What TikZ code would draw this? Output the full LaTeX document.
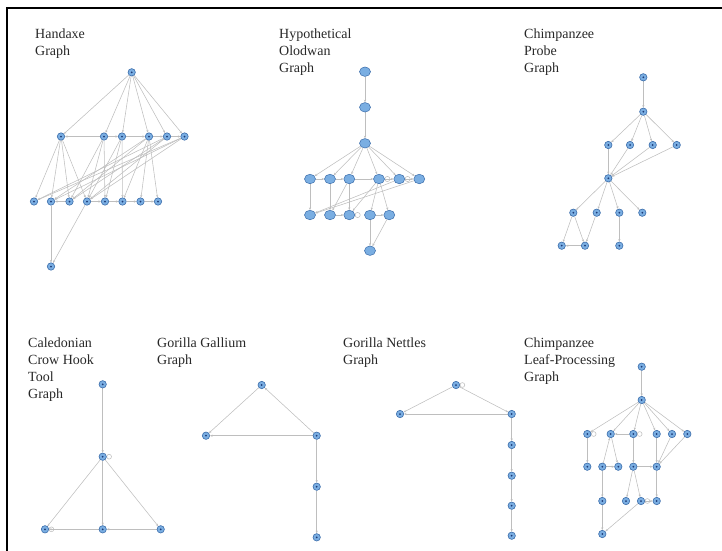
\documentclass[tikz,border=0pt]{standalone}
\usepackage{fontspec}
\setmainfont{Liberation Serif}
\usetikzlibrary{arrows.meta,backgrounds,shapes.geometric}
\definecolor{nodeblue}{RGB}{122,174,226}
\definecolor{nodeborder}{RGB}{58,108,170}
\definecolor{nodedot}{RGB}{30,60,120}
\definecolor{edgegray}{RGB}{190,190,190}
\definecolor{txt}{RGB}{40,40,40}
\tikzset{
  nd/.style={circle, fill=nodeblue, draw=nodeborder, line width=0.6pt, inner sep=0pt, minimum size=7.4pt,
    path picture={\fill[nodedot] (path picture bounding box.center) circle (1pt);}},
  bn/.style={ellipse, fill=nodeblue, draw=nodeborder, line width=0.5pt, inner sep=0pt, minimum width=11pt, minimum height=9.5pt},
  ed/.style={draw=edgegray, line width=0.55pt, -{Stealth[length=2.6pt,width=2.2pt]}},
  lp/.style={draw=edgegray, line width=0.55pt},
  lbl/.style={anchor=north west, inner sep=0pt, align=left, text=txt, font=\fontsize{14}{17}\selectfont},
}
\begin{document}
\begin{tikzpicture}[x=1pt,y=-1pt]
\useasboundingbox (0,0) rectangle (722,550);
\draw[line width=1.6pt] (7,551) -- (7,8) -- (723,8);
% labels
\node[lbl] (L1) at (35,29) {Handaxe\\Graph};
\node[lbl] (L2) at (279,29) {Hypothetical\\Olodwan\\Graph};
\node[lbl] (L3) at (524,29) {Chimpanzee\\Probe\\Graph};
\node[lbl] (L4) at (28,337.5) {Caledonian\\Crow Hook\\Tool\\Graph};
\node[lbl] (L5) at (157,337.5) {Gorilla Gallium\\Graph};
\node[lbl] (L6) at (343,337.5) {Gorilla Nettles\\Graph};
\node[lbl] (L7) at (524,337.5) {Chimpanzee\\Leaf-Processing\\Graph};
% Handaxe
\node[nd] (h0) at (131.7,72.3) {};
\node[nd] (m1) at (61,136.5) {};
\node[nd] (m2) at (104,136.5) {};
\node[nd] (m3) at (122,136.5) {};
\node[nd] (m4) at (149,136.5) {};
\node[nd] (m5) at (167,136.5) {};
\node[nd] (m6) at (184.5,136.5) {};
\node[nd] (b1) at (34,201.5) {};
\node[nd] (b2) at (51,201.5) {};
\node[nd] (b3) at (69.5,201.5) {};
\node[nd] (b4) at (87,201.5) {};
\node[nd] (b5) at (105,201.5) {};
\node[nd] (b6) at (122.5,201.5) {};
\node[nd] (b7) at (140.5,201.5) {};
\node[nd] (b8) at (158,201.5) {};
\node[nd] (h9) at (51,266.5) {};
% Olodwan
\node[bn] (o1) at (365,71.7) {};
\node[bn] (o2) at (365,107.3) {};
\node[bn] (o3) at (365,143.3) {};
\node[bn] (r1) at (310,179) {};
\node[bn] (r2) at (330,179) {};
\node[bn] (r3) at (349.3,179) {};
\node[bn] (r4) at (379,179) {};
\node[bn] (r5) at (399.3,179) {};
\node[bn] (r6) at (419.3,179) {};
\node[bn] (s1) at (310,215) {};
\node[bn] (s2) at (330,215) {};
\node[bn] (s3) at (349.3,215) {};
\node[bn] (s4) at (370,215) {};
\node[bn] (s5) at (389.3,215) {};
\node[bn] (o4) at (370,250.7) {};
% Probe
\node[nd] (p1) at (643.3,77.3) {};
\node[nd] (p2) at (643.3,111.7) {};
\node[nd] (q1) at (608.3,145) {};
\node[nd] (q2) at (630,145) {};
\node[nd] (q3) at (652.7,145) {};
\node[nd] (q4) at (676.7,145) {};
\node[nd] (p3) at (608.3,178.3) {};
\node[nd] (t1) at (573.3,212.7) {};
\node[nd] (t2) at (596.7,212.7) {};
\node[nd] (t3) at (619.3,212.7) {};
\node[nd] (t4) at (642.3,212.7) {};
\node[nd] (u1) at (561.7,245.7) {};
\node[nd] (u2) at (585,245.7) {};
\node[nd] (u3) at (619.3,245.7) {};
% Crow hook
\node[nd] (c1) at (102.7,384.3) {};
\node[nd] (c2) at (102.7,456.7) {};
\node[nd] (c3) at (45,529.3) {};
\node[nd] (c4) at (102.7,529.3) {};
\node[nd] (c5) at (160.7,529.3) {};
% Gallium
\node[nd] (g1) at (261.7,385) {};
\node[nd] (g2) at (206,435.7) {};
\node[nd] (g3) at (316.7,435.7) {};
\node[nd] (g4) at (316.7,486.7) {};
\node[nd] (g5) at (316.7,537.3) {};
% Nettles
\node[nd] (n1) at (456,385) {};
\node[nd] (n2) at (400,414) {};
\node[nd] (n3) at (511.7,414) {};
\node[nd] (n4) at (511.7,445) {};
\node[nd] (n5) at (511.7,475.7) {};
\node[nd] (n6) at (511.7,505.7) {};
\node[nd] (n7) at (511.7,535.7) {};
% Leaf processing
\node[nd] (l1) at (641.7,366.7) {};
\node[nd] (l2) at (641.7,400) {};
\node[nd] (a1) at (587.3,434) {};
\node[nd] (a2) at (610.7,434) {};
\node[nd] (a3) at (633.3,434) {};
\node[nd] (a4) at (656.7,434) {};
\node[nd] (a5) at (672,434) {};
\node[nd] (a6) at (687.3,434) {};
\node[nd] (d1) at (587.3,466.7) {};
\node[nd] (d2) at (602.3,466.7) {};
\node[nd] (d3) at (618.3,466.7) {};
\node[nd] (d4) at (633.3,466.7) {};
\node[nd] (d5) at (656.7,466.7) {};
\node[nd] (e1) at (602.3,501) {};
\node[nd] (e2) at (626,501) {};
\node[nd] (e3) at (641,501) {};
\node[nd] (e4) at (656.7,501) {};
\node[nd] (l3) at (602.3,534) {};
\begin{pgfonlayer}{background}
% Handaxe edges
\foreach \t in {m1,m2,m3,m4,m5,m6} \draw[ed] (h0) -- (\t);
\draw[ed] (m2) -- (m1);
\draw[ed] (m2) -- (m3);
\draw[ed] (m3) -- (m4);
\draw[ed] (m4) -- (m5);
\draw[ed] (m5) -- (m6);
\foreach \t in {b1,b2,b3,b4} \draw[ed] (m1) -- (\t);
\foreach \t in {b3,b4,b5} \draw[ed] (m2) -- (\t);
\foreach \t in {b4,b5,b6} \draw[ed] (m3) -- (\t);
\foreach \t in {b2,b3,b6,b7,b8} \draw[ed] (m4) -- (\t);
\foreach \t in {b1,b3,b4} \draw[ed] (m5) -- (\t);
\foreach \t in {b1,b2,b4} \draw[ed] (m6) -- (\t);
\draw[ed] (b3) -- (b2);
\draw[ed] (b4) -- (b5);
\draw[ed] (b5) -- (b6);
\draw[ed] (b6) -- (b7);
\draw[ed] (b7) -- (b8);
\draw[ed] (b2) -- (h9);
\draw[ed] (b4) -- (h9);
% Olodwan edges
\draw[ed] (o1) -- (o2);
\draw[ed] (o2) -- (o3);
\foreach \t in {r1,r2,r3,r4,r5,r6} \draw[ed] (o3) -- (\t);
\draw[ed] (r1) -- (r2);
\draw[ed] (r2) -- (r3);
\draw[ed] (r3) -- (r4);
\draw[ed] (r4) -- (r5);
\draw[ed] (r5) -- (r6);
\draw[ed] (r1) -- (s1);
\draw[ed] (r2) -- (s2);
\draw[ed] (r3) -- (s3);
\draw[ed] (r3) -- (s2);
\draw[ed] (r4) -- (s3);
\draw[ed] (r5) -- (s1);
\draw[ed] (r6) -- (s1);
\draw[ed] (r4) -- (s4);
\draw[ed] (r4) -- (s5);
\draw[ed] (s2) -- (s3);
\draw[ed] (s4) -- (s5);
\draw[ed] (s4) -- (o4);
\draw[ed] (s5) -- (o4);
\draw[lp] (r4.east) ++(2.6,0) circle[radius=2.6pt];
\draw[lp] (r5.east) ++(2.6,0) circle[radius=2.6pt];
\draw[lp] (s3.east) ++(2.6,0) circle[radius=2.6pt];
% Probe edges
\draw[ed] (p1) -- (p2);
\foreach \t in {q1,q2,q3,q4} {\draw[ed] (p2) -- (\t); \draw[ed] (\t) -- (p3);}
\foreach \t in {t1,t2,t3,t4} \draw[ed] (p3) -- (\t);
\draw[ed] (t1) -- (u1);
\draw[ed] (t1) -- (u2);
\draw[ed] (t2) -- (u2);
\draw[ed] (u2) -- (u1);
\draw[ed] (t3) -- (u3);
% Crow hook edges
\draw[ed] (c1) -- (c2);
\draw[ed] (c2) -- (c3);
\draw[ed] (c2) -- (c4);
\draw[ed] (c2) -- (c5);
\draw[ed] (c4) -- (c3);
\draw[ed] (c5) -- (c4);
\draw[lp] (c2.east) ++(2.4,0) circle[radius=2.4pt];
\draw[lp] (c3.east) ++(2.4,0) circle[radius=2.4pt];
% Gallium edges
\draw[ed] (g1) -- (g2);
\draw[ed] (g3) -- (g1);
\draw[ed] (g3) -- (g2);
\draw[ed] (g3) -- (g4);
\draw[ed] (g4) -- (g5);
% Nettles edges
\draw[ed] (n1) -- (n2);
\draw[ed] (n1) -- (n3);
\draw[ed] (n3) -- (n2);
\draw[ed] (n3) -- (n4);
\draw[ed] (n4) -- (n5);
\draw[ed] (n5) -- (n6);
\draw[ed] (n6) -- (n7);
\draw[lp] (n1.east) ++(2.4,0) circle[radius=2.4pt];
% Leaf edges
\draw[ed] (l1) -- (l2);
\foreach \t in {a1,a2,a3,a4,a5,a6} \draw[ed] (l2) -- (\t);
\draw[ed] (a1) -- (d1);
\draw[ed] (a3) -- (a2);
\draw[ed] (d2) -- (a2);
\draw[ed] (a2) -- (d3);
\draw[ed] (d2) -- (d3);
\draw[ed] (a3) -- (d4);
\draw[ed] (d4) -- (d5);
\draw[ed] (a4) -- (d5);
\draw[ed] (a5) -- (d5);
\draw[ed] (a6) -- (d5);
\draw[ed] (d4) -- (e2);
\draw[ed] (d4) -- (e3);
\draw[ed] (e3) -- (e4);
\draw[ed] (d5) -- (e4);
\draw[ed] (d2) -- (e1);
\draw[ed] (e1) -- (l3);
\draw[ed] (e3) -- (l3);
\draw[lp] (a1.east) ++(2.4,0) circle[radius=2.4pt];
\draw[lp] (a3.east) ++(2.4,0) circle[radius=2.4pt];
\draw[lp] (e3.east) ++(2.4,0) circle[radius=2.4pt];
\end{pgfonlayer}
\end{tikzpicture}
\end{document}
